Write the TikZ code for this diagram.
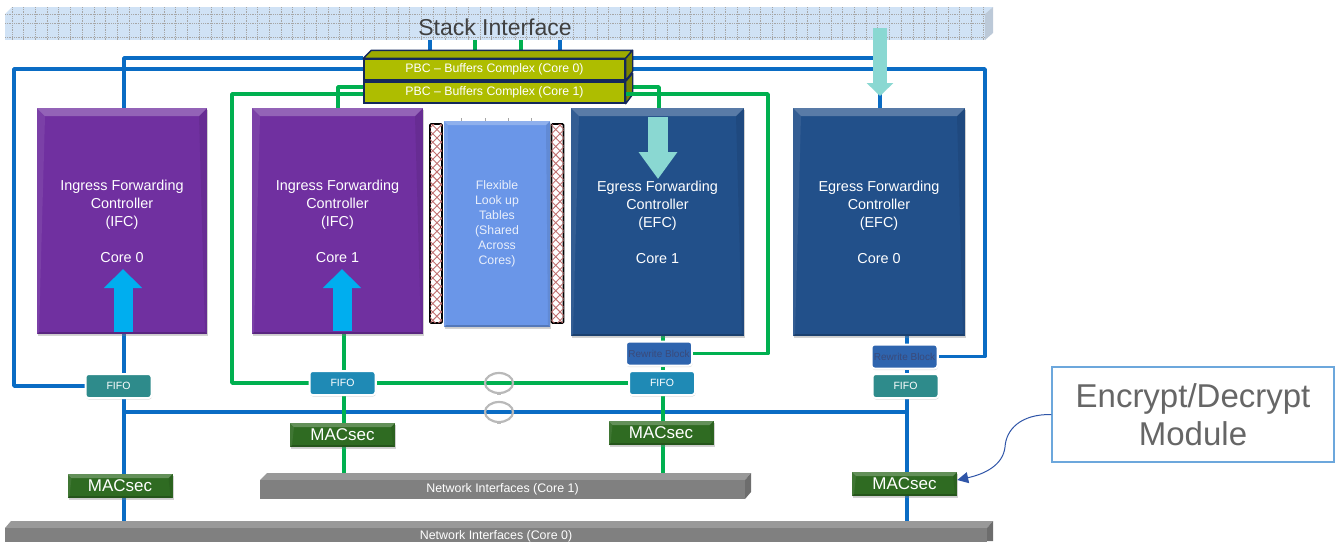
\documentclass[tikz,border=0pt]{standalone}
\usepackage{fontspec}
\setmainfont{Liberation Sans}
\usetikzlibrary{arrows.meta,backgrounds,patterns.meta,shadows,shapes.geometric}
\definecolor{lineblue}{HTML}{0A6CC4}
\definecolor{linegreen}{HTML}{00B050}
\definecolor{ifcpurple}{HTML}{7030A0}
\definecolor{efcblue}{HTML}{22508A}
\definecolor{flexblue}{HTML}{6A96E8}
\definecolor{pbcolive}{HTML}{AEBD00}
\definecolor{pbcnavy}{HTML}{14285A}
\definecolor{macgreen}{HTML}{2F6B22}
\definecolor{netgray}{HTML}{808080}
\definecolor{stackblue}{HTML}{D0E2F5}
\definecolor{fifoteal}{HTML}{2E8B8B}
\definecolor{fifoblue}{HTML}{1F8AB5}
\definecolor{rewblue}{HTML}{2E64AE}
\definecolor{rewtext}{HTML}{3A4A7A}
\definecolor{uparrow}{HTML}{00AEEF}
\definecolor{downarrow}{HTML}{8AD8D2}
\definecolor{hatchred}{HTML}{C07070}
\definecolor{calloutline}{HTML}{2F55A8}
\tikzset{
	bevel/.style={path picture={
		\coordinate (bvnw) at (path picture bounding box.north west);
		\coordinate (bvne) at (path picture bounding box.north east);
		\coordinate (bvsw) at (path picture bounding box.south west);
		\coordinate (bvse) at (path picture bounding box.south east);
		\fill[white,opacity=.25] (bvnw) -- (bvne) -- ([shift={(-#1pt,-#1pt)}]bvne) -- ([shift={(#1pt,-#1pt)}]bvnw) -- cycle;
		\fill[black,opacity=.2] (bvsw) -- (bvse) -- ([shift={(-2pt,2pt)}]bvse) -- ([shift={(2pt,2pt)}]bvsw) -- cycle;
		\fill[white,opacity=.08] (bvnw) -- ([shift={(#1pt,-#1pt)}]bvnw) -- ([shift={(2pt,2pt)}]bvsw) -- (bvsw) -- cycle;
		\fill[black,opacity=.08] (bvne) -- ([shift={(-#1pt,-#1pt)}]bvne) -- ([shift={(-2pt,2pt)}]bvse) -- (bvse) -- cycle;
	}},
	softshadow/.style={drop shadow={opacity=.35,shadow xshift=1pt,shadow yshift=-2pt}},
	ctrlbox/.style={fill=#1,bevel=8,softshadow,text=white,inner sep=0pt,align=center,font=\fontsize{14.4}{18}\selectfont},
	macbox/.style={fill=macgreen,bevel=4,softshadow,text=white,inner sep=0pt,minimum width=105pt,minimum height=24pt,font=\fontsize{17}{18}\selectfont},
	smallbox/.style={fill=#1,draw=white,line width=2pt,rounded corners=3pt,drop shadow={opacity=.3,shadow xshift=0.5pt,shadow yshift=-1.5pt},inner sep=0pt,minimum width=66pt,minimum height=24pt,text=white,font=\fontsize{10.5}{12}\selectfont},
	pbcbox/.style={fill=pbcolive,draw=pbcnavy,line width=1.4pt,inner sep=0pt,minimum width=261pt,minimum height=21pt,text=white,font=\fontsize{12.3}{14}\selectfont},
	pbcside/.style={fill=pbcolive!70!black,draw=pbcnavy,line width=1.4pt,line join=round},
	netbox/.style={fill=netgray,inner sep=0pt,text=white,font=\fontsize{12.4}{14}\selectfont},
	nettop/.style={fill=netgray!80!white},
	netside/.style={fill=netgray!85!black},
	stackgrid/.style={draw=gray!70,densely dotted,line width=.8pt},
	hatchbar/.style={draw=black,line width=1.6pt,rounded corners=1pt,fill=white,inner sep=0pt,minimum width=12pt,minimum height=199pt,
		postaction={pattern={Lines[angle=45,distance=6pt,line width=.9pt]},pattern color=hatchred},
		postaction={pattern={Lines[angle=-45,distance=6pt,line width=.9pt]},pattern color=hatchred}},
	ringnode/.style={ellipse,draw=gray!55,line width=2.2pt,inner sep=0pt,minimum width=28pt,minimum height=20pt},
	blueline/.style={draw=lineblue,line width=3.4pt,line join=round},
	greenline/.style={draw=linegreen,line width=3.4pt,line join=round},
	risearrow/.style={draw=uparrow,line width=19pt,-{Triangle[length=19pt,width=37pt]}},
	droparrow/.style={draw=downarrow,line width=20pt,-{Triangle[length=27pt,width=37pt]}},
	droparrowthin/.style={draw=downarrow,line width=14pt,-{Triangle[length=13pt,width=26pt]}},
}
\begin{document}
\begin{tikzpicture}[x=1pt,y=-1pt]
	\useasboundingbox (0,0) rectangle (1340,541);

	\coordinate (rowA) at (0,58);
	\coordinate (rowB) at (0,69);
	\coordinate (rowC) at (0,87);
	\coordinate (rowD) at (0,94);
	\coordinate (rowE) at (0,412);
	\coordinate (colL) at (14,0);
	\coordinate (colA) at (124,0);
	\coordinate (colH) at (232,0);
	\coordinate (colG) at (338,0);
	\coordinate (colB) at (344,0);
	\coordinate (colI) at (659,0);
	\coordinate (colC) at (663,0);
	\coordinate (colJ) at (768,0);
	\coordinate (colE) at (880,0);
	\coordinate (colD) at (907,0);
	\coordinate (colF) at (985,0);
	\coordinate (dropA) at (430,0);
	\coordinate (dropB) at (475,0);
	\coordinate (dropC) at (521,0);
	\coordinate (dropD) at (560,0);

	\fill[stackblue] (5,14) -- (12,7) -- (993,7) -- (985,14) -- cycle;
	\fill[stackblue!75!gray] (985,14) -- (993,7) -- (993,33) -- (985,40) -- cycle;
	\node[fill=stackblue,inner sep=0pt,minimum width=980pt,minimum height=26pt] (stackbar) at (495,27) {};
	\foreach \gx in {12,23.7,...,985}
		\draw[stackgrid] (\gx,7) -- (\gx,40);
	\foreach \gy in {14,23,37}
		\draw[stackgrid] (5,\gy) -- (985,\gy);
	\node[inner sep=0pt,text=black!75,font=\fontsize{23}{26}\selectfont] (stacklabel) at (stackbar.center) {Stack Interface};

	\node[pbcbox] (pbca) at (494.5,69.5) {PBC – Buffers Complex (Core 0)};
	\node[pbcbox] (pbcb) at (494.5,92.5) {PBC – Buffers Complex (Core 1)};
	\draw[pbcside,fill=pbcolive!90!black] (pbca.north west) -- ++(8,-8) -- ++(261,0) -- (pbca.north east) -- cycle;
	\draw[pbcside] (pbca.north east) -- ++(7,-8) -- ++(0,21) -- (pbca.south east) -- cycle;
	\draw[pbcside] (pbcb.north east) -- ++(7,-8) -- ++(0,21) -- (pbcb.south east) -- cycle;

	\node[ctrlbox=ifcpurple,minimum width=170pt,minimum height=226pt] (ifca) at (122,221) {Ingress Forwarding\\Controller\\(IFC)\\[18pt]Core 0};
	\node[ctrlbox=ifcpurple,minimum width=171pt,minimum height=226pt] (ifcb) at (337.5,221) {Ingress Forwarding\\Controller\\(IFC)\\[18pt]Core 1};
	\node[ctrlbox=efcblue,minimum width=173pt,minimum height=228pt] (efcb) at (657.5,222) {Egress Forwarding\\Controller\\(EFC)\\[18pt]Core 1};
	\node[ctrlbox=efcblue,minimum width=172pt,minimum height=228pt] (efca) at (879,222) {Egress Forwarding\\Controller\\(EFC)\\[18pt]Core 0};

	\node[ctrlbox=flexblue,bevel=4,minimum width=106pt,minimum height=206pt,text=white!85!flexblue,font=\fontsize{12.3}{15}\selectfont] (flex) at (497,224) {Flexible\\Look up\\Tables\\(Shared\\Across\\Cores)};
	\node[hatchbar] (hatcha) at (436,223.5) {};
	\node[hatchbar] (hatchb) at (557.5,223.5) {};
	\foreach \tx in {461,485,508,531}
		\draw[gray!70,line width=.6pt] (\tx,118) -- (\tx,121);

	\node[smallbox=rewblue,text=rewtext,font=\fontsize{10}{12}\selectfont] (rewb) at (659,353.5) {Rewrite Block};
	\node[smallbox=rewblue,text=rewtext,font=\fontsize{10}{12}\selectfont] (rewa) at (904.5,356.5) {Rewrite Block};
	\node[smallbox=fifoteal] (fifoa) at (118.5,386) {FIFO};
	\node[smallbox=fifoblue] (fifob) at (342.5,383) {FIFO};
	\node[smallbox=fifoblue] (fifoc) at (662,383) {FIFO};
	\node[smallbox=fifoteal] (fifod) at (905.5,386) {FIFO};

	\node[macbox] (maca) at (120,486) {MACsec};
	\node[macbox] (macb) at (342.5,435) {MACsec};
	\node[macbox] (macc) at (661,433) {MACsec};
	\node[macbox] (macd) at (904.5,484) {MACsec};

	\fill[nettop] (260,480) -- (267,473) -- (751,473) -- (745,480) -- cycle;
	\fill[netside] (745,480) -- (751,473) -- (751,492) -- (745,499) -- cycle;
	\node[netbox,minimum width=485pt,minimum height=19pt] (netb) at (502.5,489.5) {Network Interfaces (Core 1)};
	\fill[nettop] (5,528) -- (11,521) -- (993,521) -- (987,528) -- cycle;
	\fill[netside] (987,528) -- (993,521) -- (993,541) -- (987,541) -- cycle;
	\node[netbox,minimum width=982pt,minimum height=17pt] (neta) at (496,536.5) {Network Interfaces (Core 0)};

	\node[ringnode] (ringa) at (499,383) {};
	\node[ringnode] (ringb) at (499,412) {};
	\foreach \rx/\ry in {499/372,499/394,499/401,499/423}
		\draw[gray!55,line width=1pt] (\rx-2,\ry) -- (\rx+2,\ry);

	\node[draw=lineblue!60!white,line width=1.2pt,inner sep=0pt,minimum width=282pt,minimum height=95pt,align=center,text=black!60,font=\fontsize{33}{38}\selectfont] (callout) at (1193,414.5) {Encrypt/Decrypt\\Module};

	\begin{scope}[on background layer]
		\draw[blueline] (stackbar.south -| dropA) -- (pbca.north -| dropA);
		\draw[greenline] (stackbar.south -| dropB) -- (pbca.north -| dropB);
		\draw[greenline] (stackbar.south -| dropC) -- (pbca.north -| dropC);
		\draw[blueline] (stackbar.south -| dropD) -- (pbca.north -| dropD);

		\draw[blueline] (colA |- ifca.north) |- (pbca.west |- rowA);
		\draw[blueline] (pbca.east |- rowA) -| (colE |- efca.north);
		\draw[blueline] (fifoa.west) -| (colL |- rowB) -- (pbca.west |- rowB);
		\draw[blueline] (pbca.east |- rowB) -| (colF |- rewa.east) -- (rewa.east);
		\draw[greenline] (colG |- ifcb.north) |- (pbcb.west |- rowC);
		\draw[greenline] (fifob.west) -| (colH |- rowD) -- (pbcb.west |- rowD);
		\draw[greenline] (pbcb.east |- rowC) -| (colI |- efcb.north);

		\draw[greenline] (fifob.east) -- (fifoc.west);
		\draw[blueline] (colA |- rowE) -- (colD |- rowE);

		\draw[blueline] (colA |- ifca.south) -- (colA |- fifoa.north);
		\draw[blueline] (colA |- fifoa.south) -- (colA |- maca.north);
		\draw[blueline] (colA |- maca.south) -- (colA |- neta.north);
		\draw[greenline] (colB |- ifcb.south) -- (colB |- fifob.north);
		\draw[greenline] (colB |- fifob.south) -- (colB |- macb.north);
		\draw[greenline] (colB |- macb.south) -- (colB |- netb.north);
		\draw[greenline] (colC |- efcb.south) -- (colC |- rewb.north);
		\draw[greenline] (colC |- rewb.south) -- (colC |- fifoc.north);
		\draw[greenline] (colC |- fifoc.south) -- (colC |- macc.north);
		\draw[greenline] (colC |- macc.south) -- (colC |- netb.north);
		\draw[blueline] (colD |- efca.south) -- (colD |- rewa.north);
		\draw[blueline] (colD |- rewa.south) -- (colD |- fifod.north);
		\draw[blueline] (colD |- fifod.south) -- (colD |- macd.north);
		\draw[blueline] (colD |- macd.south) -- (colD |- neta.north);
	\end{scope}
	\draw[greenline] (pbcb.east |- rowD) -| (colJ |- rewb.east) -- (rewb.east);

	\draw[risearrow] (123,332) -- (123,269);
	\draw[risearrow] (342,331) -- (342,269);
	\draw[droparrow] (658,117) -- (658,179);
	\draw[droparrowthin] (880,28) -- (880,96);

	\draw[draw=calloutline,line width=1pt,-{Triangle[length=11pt,width=11pt]}] (callout.west) .. controls (1020,414) and (1006,430) .. (1005,447) .. controls (1003,465) and (985,474) .. ([yshift=4pt]macd.east);
\end{tikzpicture}
\end{document}
